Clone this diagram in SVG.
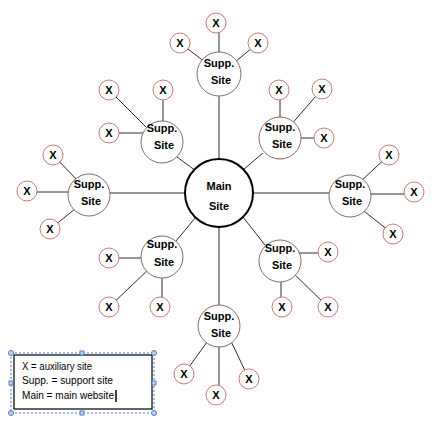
<svg xmlns="http://www.w3.org/2000/svg" width="443" height="428" viewBox="0 0 443 428">
<style>
.ln{stroke:#2e2e2e;stroke-width:1;fill:none}
.x circle{fill:#fff;stroke:#c97a7a;stroke-width:1}
.x text{font-family:"Liberation Sans",Arial,sans-serif;font-weight:bold;font-size:11px;fill:#000;text-anchor:middle}
.s circle{fill:#fff;stroke:#8a6a6a;stroke-width:1}
.s text,.m text{font-family:"Liberation Sans",Arial,sans-serif;font-weight:bold;font-size:11px;fill:#000;text-anchor:middle}
.m circle{fill:#fff;stroke:#000;stroke-width:2}
.lg{font-family:"Liberation Sans",Arial,sans-serif;font-size:11px;fill:#000}
.h{fill:#b9d3f3;stroke:#4f7fc4;stroke-width:1}
</style>
<rect width="443" height="428" fill="#fff"/>
<g id="connectors">
<line class="ln" x1="219" y1="95" x2="219" y2="160"/>
<line class="ln" x1="177" y1="157" x2="196" y2="171"/>
<line class="ln" x1="263" y1="153" x2="243" y2="170"/>
<line class="ln" x1="110" y1="193" x2="186" y2="193"/>
<line class="ln" x1="252" y1="193" x2="329" y2="193"/>
<line class="ln" x1="176" y1="241" x2="196" y2="217"/>
<line class="ln" x1="243" y1="217" x2="265" y2="245"/>
<line class="ln" x1="219" y1="226" x2="219" y2="305"/>
<line class="ln" x1="219" y1="23" x2="219" y2="60"/>
<line class="ln" x1="180" y1="43" x2="205" y2="62"/>
<line class="ln" x1="258" y1="43" x2="235" y2="62"/>
<line class="ln" x1="163" y1="90" x2="163" y2="130"/>
<line class="ln" x1="109" y1="90" x2="150" y2="131"/>
<line class="ln" x1="109" y1="133" x2="150" y2="133"/>
<line class="ln" x1="280" y1="90" x2="280" y2="125"/>
<line class="ln" x1="322" y1="89" x2="290" y2="126"/>
<line class="ln" x1="324" y1="138" x2="290" y2="138"/>
<line class="ln" x1="53" y1="155" x2="80" y2="183"/>
<line class="ln" x1="27" y1="192" x2="80" y2="192"/>
<line class="ln" x1="50" y1="229" x2="80" y2="205"/>
<line class="ln" x1="389" y1="155" x2="360" y2="182"/>
<line class="ln" x1="414" y1="194" x2="360" y2="194"/>
<line class="ln" x1="393" y1="234" x2="360" y2="208"/>
<line class="ln" x1="109" y1="258" x2="150" y2="258"/>
<line class="ln" x1="109" y1="307" x2="150" y2="268"/>
<line class="ln" x1="162" y1="307" x2="162" y2="265"/>
<line class="ln" x1="328" y1="253" x2="290" y2="253"/>
<line class="ln" x1="281" y1="307" x2="281" y2="270"/>
<line class="ln" x1="328" y1="307" x2="290" y2="270"/>
<line class="ln" x1="184" y1="374" x2="212" y2="335"/>
<line class="ln" x1="219" y1="395" x2="219" y2="335"/>
<line class="ln" x1="249" y1="379" x2="228" y2="335"/>
</g>
<g id="main" class="m"><circle cx="219" cy="193" r="34"/><text x="219" y="190">Main</text><text x="219" y="210">Site</text></g>
<g id="supp1" class="s"><circle cx="219" cy="74" r="22"/><text x="219" y="67">Supp.</text><text x="221" y="84">Site</text></g>
<g id="supp2" class="s"><circle cx="162" cy="142" r="21"/><text x="162" y="132">Supp.</text><text x="164" y="149">Site</text></g>
<g id="supp3" class="s"><circle cx="280" cy="138" r="21"/><text x="280" y="131">Supp.</text><text x="282" y="148">Site</text></g>
<g id="supp4" class="s"><circle cx="89" cy="195" r="21"/><text x="89" y="188">Supp.</text><text x="91" y="205">Site</text></g>
<g id="supp5" class="s"><circle cx="350" cy="196" r="21"/><text x="350" y="188">Supp.</text><text x="352" y="205">Site</text></g>
<g id="supp6" class="s"><circle cx="162" cy="257" r="21"/><text x="162" y="248">Supp.</text><text x="164" y="266">Site</text></g>
<g id="supp7" class="s"><circle cx="280" cy="261" r="21"/><text x="280" y="252">Supp.</text><text x="282" y="269">Site</text></g>
<g id="supp8" class="s"><circle cx="219" cy="326" r="21"/><text x="219" y="320">Supp.</text><text x="221" y="337">Site</text></g>
<g id="x1a" class="x"><circle cx="216" cy="23" r="10"/><text x="216" y="27">X</text></g>
<g id="x1b" class="x"><circle cx="180" cy="43" r="10"/><text x="180" y="47">X</text></g>
<g id="x1c" class="x"><circle cx="258" cy="43" r="10"/><text x="258" y="47">X</text></g>
<g id="x2a" class="x"><circle cx="163" cy="90" r="10"/><text x="163" y="94">X</text></g>
<g id="x2b" class="x"><circle cx="109" cy="90" r="10"/><text x="109" y="94">X</text></g>
<g id="x2c" class="x"><circle cx="109" cy="133" r="10"/><text x="109" y="137">X</text></g>
<g id="x3a" class="x"><circle cx="279" cy="90" r="10"/><text x="279" y="94">X</text></g>
<g id="x3b" class="x"><circle cx="322" cy="89" r="10"/><text x="322" y="93">X</text></g>
<g id="x3c" class="x"><circle cx="324" cy="138" r="10"/><text x="324" y="142">X</text></g>
<g id="x4a" class="x"><circle cx="53" cy="155" r="10"/><text x="53" y="159">X</text></g>
<g id="x4b" class="x"><circle cx="27" cy="191" r="10"/><text x="27" y="195">X</text></g>
<g id="x4c" class="x"><circle cx="50" cy="229" r="10"/><text x="50" y="233">X</text></g>
<g id="x5a" class="x"><circle cx="389" cy="155" r="10"/><text x="389" y="159">X</text></g>
<g id="x5b" class="x"><circle cx="414" cy="192" r="10"/><text x="414" y="196">X</text></g>
<g id="x5c" class="x"><circle cx="393" cy="234" r="10"/><text x="393" y="238">X</text></g>
<g id="x6a" class="x"><circle cx="109" cy="258" r="10"/><text x="109" y="262">X</text></g>
<g id="x6b" class="x"><circle cx="109" cy="307" r="10"/><text x="109" y="311">X</text></g>
<g id="x6c" class="x"><circle cx="160" cy="307" r="10"/><text x="160" y="311">X</text></g>
<g id="x7a" class="x"><circle cx="328" cy="252" r="10"/><text x="328" y="256">X</text></g>
<g id="x7b" class="x"><circle cx="282" cy="307" r="10"/><text x="282" y="311">X</text></g>
<g id="x7c" class="x"><circle cx="328" cy="307" r="10"/><text x="328" y="311">X</text></g>
<g id="x8a" class="x"><circle cx="184" cy="374" r="10"/><text x="184" y="378">X</text></g>
<g id="x8b" class="x"><circle cx="216" cy="395" r="10"/><text x="216" y="399">X</text></g>
<g id="x8c" class="x"><circle cx="249" cy="379" r="10"/><text x="249" y="383">X</text></g>
<g id="legend">
<rect x="11" y="353" width="143" height="60" fill="none" stroke="#4f7fc4" stroke-width="1" stroke-dasharray="2,2"/>
<rect x="14" y="355" width="138" height="54" fill="#fff" stroke="#000" stroke-width="1.2"/>
<text class="lg" x="22" y="370" textLength="70" lengthAdjust="spacingAndGlyphs">X = auxiliary site</text>
<text class="lg" x="22" y="384" textLength="91" lengthAdjust="spacingAndGlyphs">Supp. = support  site</text>
<text class="lg" x="22" y="399" textLength="92" lengthAdjust="spacingAndGlyphs">Main = main website</text>
<line x1="116" y1="390" x2="116" y2="402" stroke="#000" stroke-width="1.5"/>
<circle class="h" cx="11" cy="353" r="2.5"/>
<circle class="h" cx="154" cy="353" r="2.5"/>
<circle class="h" cx="11" cy="413" r="2.5"/>
<circle class="h" cx="154" cy="413" r="2.5"/>
<rect class="h" x="80" y="351" width="4" height="4"/>
<rect class="h" x="80" y="411" width="4" height="4"/>
<rect class="h" x="9" y="381" width="4" height="4"/>
<rect class="h" x="152" y="381" width="4" height="4"/>
</g>
</svg>
